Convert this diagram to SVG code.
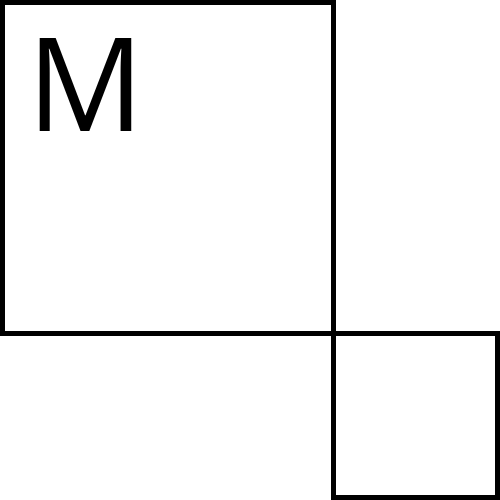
<svg xmlns="http://www.w3.org/2000/svg" width="500" height="500" viewBox="0 0 500 500">
<style>
.box{fill:#fff;stroke:#000;stroke-width:5}
.lbl{font-family:"Open Sans","Liberation Sans",sans-serif;font-size:130px;fill:#000}
</style>
<rect width="500" height="500" fill="#fff"/>
<g id="big">
<rect class="box" x="2.5" y="2.5" width="331" height="331"/>
<text class="lbl" x="27" y="131">M</text>
</g>
<g id="small">
<rect class="box" x="333.5" y="333.5" width="164" height="164"/>
</g>
<g id="connectors"></g>
</svg>
